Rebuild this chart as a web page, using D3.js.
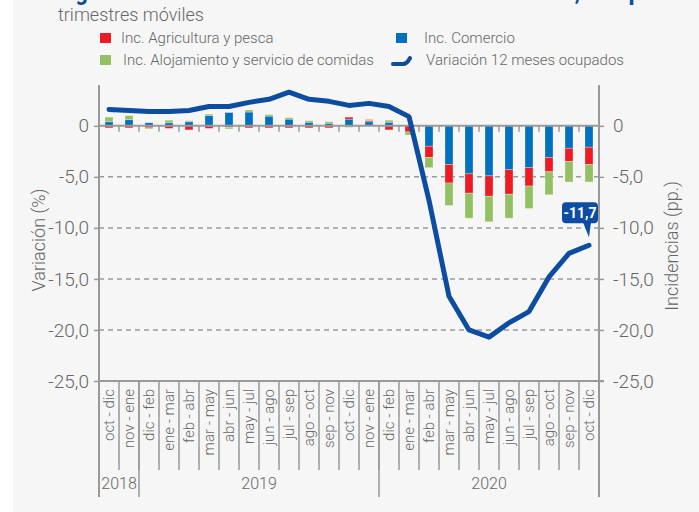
<!DOCTYPE html>
<html>
<head>
<meta charset="utf-8">
<script src="https://cdn.jsdelivr.net/npm/d3@7"></script>
<style>
  html, body { margin: 0; padding: 0; background: #fff; }
  svg { display: block; }
</style>
</head>
<body>
<svg id="chart" width="699" height="512"></svg>
<script>
// periods (rolling quarters)
var periods = ["oct - dic", "nov - ene", "dic - feb", "ene - mar", "feb - abr", "mar - may",
    "abr - jun", "may - jul", "jun - ago", "jul - sep", "ago - oct", "sep - nov", "oct - dic",
    "nov - ene", "dic - feb", "ene - mar", "feb - abr", "mar - may", "abr - jun", "may - jul",
    "jun - ago", "jul - sep", "ago - oct", "sep - nov", "oct - dic"];

var yearLabels = ["2018", "2019", "2020"];
var yearCounts = [2, 12, 11];

// variacion 12 meses ocupados (%)
var variacion = [1.6, 1.5, 1.4, 1.4, 1.5, 1.9, 1.9, 2.3, 2.6, 3.3, 2.6, 2.4, 2.0,
    2.2, 1.9, 0.9, -7.3, -16.7, -20.0, -20.7, -19.3, -18.2, -14.8, -12.5, -11.7];

// incidencias (pp.)
var comercio = [0.4, 0.6, 0.3, 0.3, 0.4, 1.0, 1.3, 1.35, 0.95, 0.65, 0.35, 0.25, 0.65,
    0.4, 0.35, 0, -2.0, -3.8, -4.7, -4.9, -4.3, -4.1, -3.1, -2.2, -2.1];
var agricultura = [-0.2, -0.2, -0.2, -0.25, -0.4, -0.25, -0.15, -0.2, -0.2, -0.2, -0.2, -0.2, 0.2,
    0.12, -0.4, -0.6, -1.1, -1.8, -1.9, -2.0, -2.4, -1.8, -1.4, -1.3, -1.7];
var alojamiento = [0.45, 0.4, -0.1, 0.25, 0.1, 0.15, -0.15, 0.2, 0.15, 0.15, 0.15, 0.15, -0.15,
    0.12, 0.2, -0.3, -1.0, -2.2, -2.45, -2.5, -2.35, -2.2, -2.25, -2.0, -1.7];

var yTicks = [0, -5, -10, -15, -20, -25];

var FONT = "Roboto, 'Open Sans', sans-serif";
var GREY = "#666";
var LINE = "#0c4ca1";
var colors = { comercio: "#0070c0", agricultura: "#ed1c24", alojamiento: "#92c062" };

// "-5,0" style, plain hyphen
function fmt(d) {
    return d === 0 ? "0" : d3.format(".1f")(d).replace(".", ",").replace("\u2212", "-");
}

var svg = d3.select("#chart");

// background panel
svg.append("rect").attr("x", 13).attr("y", 0).attr("width", 686).attr("height", 512)
    .attr("fill", "#f6f6f6");

// title (cut off at the top in the original) + subtitle
var title = svg.append("text").attr("y", 0).attr("fill", LINE)
    .attr("font-family", FONT).attr("font-weight", "bold").attr("font-size", 24);
title.append("tspan").attr("x", 58).attr("textLength", 522).attr("lengthAdjust", "spacingAndGlyphs")
    .text("Figura 5: Incidencias sectoriales en la variación anual,");
title.append("tspan").attr("x", 589).text("ocupados");
svg.append("text").attr("x", 58).attr("y", 21).attr("fill", GREY)
    .attr("font-family", FONT).attr("font-weight", 300).attr("font-size", 18)
    .text("trimestres móviles");

var x = d3.scaleBand().domain(d3.range(periods.length)).range([99, 599]).padding(0);
var y = d3.scaleLinear().domain([-25, 4]).range([381, 85]);
var barW = 8;

// grid lines
svg.append("g").selectAll("line").data(yTicks.filter(function (d) { return d < 0 && d > -25; }))
    .join("line")
    .attr("x1", 99).attr("x2", 599)
    .attr("y1", function (d) { return y(d); }).attr("y2", function (d) { return y(d); })
    .attr("stroke", "#9a9a9a").attr("stroke-width", 1.5).attr("stroke-dasharray", "5,4");

// stacked bars
var rows = periods.map(function (p, i) {
    return { i: i, comercio: comercio[i], agricultura: agricultura[i], alojamiento: alojamiento[i] };
});
var series = d3.stack().keys(["comercio", "agricultura", "alojamiento"])
    .offset(d3.stackOffsetDiverging)(rows);

svg.append("g").selectAll("g").data(series).join("g")
    .attr("fill", function (s) { return colors[s.key]; })
    .selectAll("rect").data(function (s) { return s; }).join("rect")
    .attr("x", function (d) { return x(d.data.i) + x.bandwidth() / 2 - barW / 2; })
    .attr("width", barW)
    .attr("y", function (d) { return y(Math.max(d[0], d[1])); })
    .attr("height", function (d) { return Math.abs(y(d[0]) - y(d[1])); })
    .attr("stroke", "rgba(255,255,255,0.35)").attr("stroke-width", 0.8);

// zero line and bottom line
svg.append("line").attr("x1", 99).attr("x2", 599).attr("y1", y(0)).attr("y2", y(0))
    .attr("stroke", "#999").attr("stroke-width", 2);
svg.append("line").attr("x1", 99).attr("x2", 604).attr("y1", y(-25)).attr("y2", y(-25))
    .attr("stroke", "#999").attr("stroke-width", 2);

// small ticks under zero line
svg.append("g").selectAll("line").data(d3.range(1, periods.length)).join("line")
    .attr("x1", function (k) { return x(k); }).attr("x2", function (k) { return x(k); })
    .attr("y1", y(0)).attr("y2", y(0) + 6)
    .attr("stroke", "#999").attr("stroke-width", 1.5);

// left axis
var left = svg.append("g").attr("transform", "translate(99,0)")
    .call(d3.axisLeft(y).tickValues(yTicks).tickSize(5).tickPadding(5).tickFormat(fmt));
left.select(".domain").remove();
left.selectAll("line").attr("stroke", "#999").attr("stroke-width", 1.5);
left.selectAll("text").attr("font-family", FONT).attr("font-weight", 300)
    .attr("font-size", 19).attr("fill", GREY);

// right axis
var right = svg.append("g").attr("transform", "translate(599,0)")
    .call(d3.axisRight(y).tickValues(yTicks).tickSize(5).tickPadding(9).tickFormat(fmt));
right.select(".domain").remove();
right.selectAll("line").attr("stroke", "#999").attr("stroke-width", 1.5);
right.selectAll("text").attr("font-family", FONT).attr("font-weight", 300)
    .attr("font-size", 19).attr("fill", GREY);

// vertical axis lines (run down through the label area)
svg.append("line").attr("x1", 99).attr("x2", 99).attr("y1", 85).attr("y2", 497)
    .attr("stroke", "#999").attr("stroke-width", 2);
svg.append("line").attr("x1", 599).attr("x2", 599).attr("y1", 85).attr("y2", 497)
    .attr("stroke", "#999").attr("stroke-width", 2);

// axis titles
svg.append("text").attr("transform", "translate(45,240) rotate(-90)")
    .attr("text-anchor", "middle").attr("font-family", FONT).attr("font-weight", 300)
    .attr("font-size", 18).attr("fill", GREY).text("Variación (%)");
svg.append("text").attr("transform", "translate(678,246) rotate(-90)")
    .attr("text-anchor", "middle").attr("font-family", FONT).attr("font-weight", 300)
    .attr("font-size", 18).attr("fill", GREY).text("Incidencias (pp.)");

// category separators + labels
svg.append("g").selectAll("line").data(d3.range(1, periods.length)).join("line")
    .attr("x1", function (k) { return x(k); }).attr("x2", function (k) { return x(k); })
    .attr("y1", 381).attr("y2", 470)
    .attr("stroke", "#999").attr("stroke-width", 1.5);

svg.append("g").selectAll("text").data(periods).join("text")
    .attr("transform", function (d, i) {
        return "translate(" + (x(i) + x.bandwidth() / 2) + ",389) rotate(-90)";
    })
    .attr("text-anchor", "end").attr("dy", "0.35em")
    .attr("font-family", FONT).attr("font-weight", 300).attr("font-size", 15).attr("fill", GREY)
    .text(function (d) { return d; });

// year groups
var start = 0;
yearLabels.forEach(function (lab, j) {
    var end = start + yearCounts[j];
    var xs = x(start), xe = end < periods.length ? x(end) : 599;
    svg.append("line").attr("x1", xe).attr("x2", xe).attr("y1", 381).attr("y2", 497)
        .attr("stroke", "#999").attr("stroke-width", 1.5);
    svg.append("text").attr("x", (xs + xe) / 2).attr("y", 489).attr("text-anchor", "middle")
        .attr("font-family", FONT).attr("font-weight", 300).attr("font-size", 16)
        .attr("fill", GREY).text(lab);
    start = end;
});

// variation line
var line = d3.line()
    .x(function (d, i) { return x(i) + x.bandwidth() / 2; })
    .y(function (d) { return y(d); });
svg.append("path").datum(variacion).attr("d", line)
    .attr("fill", "none").attr("stroke", LINE).attr("stroke-width", 5)
    .attr("stroke-linejoin", "round").attr("stroke-linecap", "round");

// callout for last value
var last = variacion.length - 1;
var px = x(last) + x.bandwidth() / 2, py = y(variacion[last]);
var bx = px - 27, by = py - 43;
var callout = svg.append("g");
callout.append("rect").attr("x", bx).attr("y", by).attr("width", 36).attr("height", 21)
    .attr("rx", 4).attr("fill", LINE);
callout.append("path")
    .attr("d", "M" + (px - 6) + "," + (by + 20) + "L" + (px + 2) + "," + (by + 20) + "L" + px + "," + (py - 8) + "Z")
    .attr("fill", LINE);
callout.append("text").attr("x", bx + 18).attr("y", by + 15.5).attr("text-anchor", "middle")
    .attr("font-family", FONT).attr("font-weight", "bold").attr("font-size", 14)
    .attr("fill", "#fff").text(fmt(variacion[last]));

// legend
var legend = [
    { label: "Inc. Agricultura y pesca", color: colors.agricultura, x: 100, y: 38, tx: 121 },
    { label: "Inc. Alojamiento y servicio de comidas", color: colors.alojamiento, x: 100, y: 60, tx: 123 },
    { label: "Inc. Comercio", color: colors.comercio, x: 396, y: 38, tx: 424 }
];
var lg = svg.append("g");
legend.forEach(function (l) {
    lg.append("rect").attr("x", l.x).attr("y", l.y - 5).attr("width", 11).attr("height", 10)
        .attr("fill", l.color);
    lg.append("text").attr("x", l.tx).attr("y", l.y + 5).attr("font-family", FONT)
        .attr("font-weight", 300).attr("font-size", 15).attr("fill", GREY).text(l.label);
});
lg.append("path").attr("d", "M393,64 L403,64 Q407,64 410,58")
    .attr("fill", "none").attr("stroke", LINE).attr("stroke-width", 4).attr("stroke-linecap", "round");
lg.append("text").attr("x", 426).attr("y", 65).attr("font-family", FONT)
    .attr("font-weight", 300).attr("font-size", 15).attr("fill", GREY).text("Variación 12 meses ocupados");
</script>
</body>
</html>
